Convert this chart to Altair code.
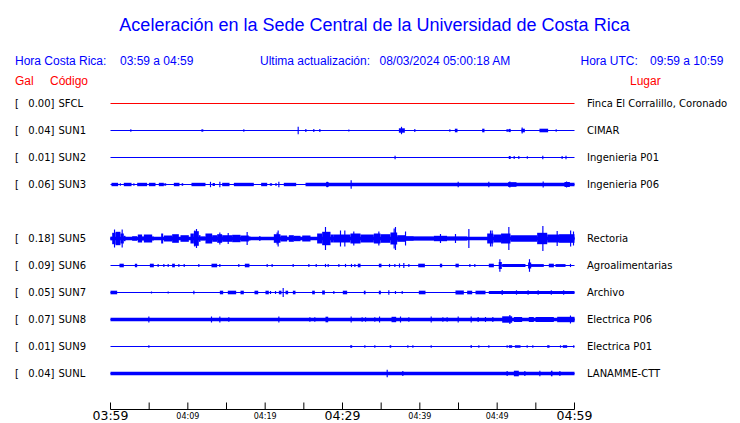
import altair as alt
import pandas as pd

# ---------------- data ----------------
stations = ["SFCL", "SUN1", "SUN2", "SUN3", "SUN5", "SUN6", "SUN7", "SUN8", "SUN9", "SUNL"]
rows = [0, 1, 2, 3, 5, 6, 7, 8, 9, 10]
gal = ["0.00", "0.04", "0.01", "0.06", "0.18", "0.09", "0.05", "0.07", "0.01", "0.04"]
places = ["Finca El Corralillo, Coronado", "CIMAR", "Ingenieria P01", "Ingenieria P06",
          "Rectoria", "Agroalimentarias", "Archivo", "Electrica P06", "Electrica P01",
          "LANAMME-CTT"]
trace_colors = ["#ff0000", "#0000ff", "#0000ff", "#0000ff", "#0000ff",
                "#0000ff", "#0000ff", "#0000ff", "#0000ff", "#0000ff"]
# continuous background deflection (display units, 27 units = one row)
base_amp = [0, 0, 0, 0, 1.8, 0, 0, 1.7, 0, 1.8]

# bursts: (start minute, end minute, half deflection)
segments = {
    "SUN1": [(11.75, 12.0, 1.2), (37.29, 38.06, 2.2), (44.53, 44.87, 1.8), (48.06, 48.36, 1.8),
             (51.45, 51.75, 1.6), (53.15, 53.58, 1.8), (55.47, 56.59, 1.8)],
    "SUN2": [(51.5, 51.75, 1.5)],
    "SUN3": [(0.13, 0.99, 1.7), (1.2, 1.35, 1.3), (1.72, 2.72, 1.7), (2.95, 3.1, 1.3),
             (3.45, 4.74, 1.7), (4.96, 5.82, 1.7), (6.25, 6.90, 1.7), (6.95, 7.2, 1.2),
             (8.19, 8.92, 1.7), (9.2, 9.4, 1.3), (10.47, 12.28, 1.7), (13.2, 13.5, 1.5),
             (14.44, 15.39, 1.7), (15.95, 18.53, 1.7), (19.48, 20.26, 1.7), (20.6, 20.9, 1.2),
             (21.3, 21.5, 1.2), (22.41, 24.01, 1.7), (25.22, 60.0, 1.7), (27.9, 28.2, 2.5),
             (51.4, 52.5, 2.3), (58.7, 59.4, 2.5)],
    "SUN5": [(0.0, 0.22, 1.7), (0.22, 0.65, 5.7), (0.65, 1.29, 6.7), (1.29, 1.72, 5.0),
             (1.72, 1.94, 2.7), (2.80, 3.45, 2.3), (3.53, 4.09, 4.0), (4.09, 4.31, 2.0),
             (4.31, 5.39, 4.0), (5.39, 5.60, 2.0), (6.55, 6.81, 5.0), (6.90, 7.97, 3.0),
             (7.97, 8.84, 4.3), (9.05, 10.13, 3.3), (10.34, 10.78, 5.0), (10.78, 11.42, 7.3),
             (11.42, 11.64, 3.3), (11.64, 12.28, 2.0), (12.28, 13.15, 5.0), (13.15, 13.79, 3.3),
             (13.79, 14.44, 4.3), (14.44, 15.73, 3.3), (15.73, 16.81, 3.7), (16.81, 17.89, 3.0),
             (17.89, 18.10, 2.0), (21.12, 21.98, 4.3), (21.98, 22.84, 3.0), (23.06, 23.71, 3.3),
             (23.71, 24.57, 2.7), (24.79, 25.86, 3.0), (26.72, 27.37, 5.0), (27.37, 28.45, 6.7),
             (28.45, 28.88, 4.0), (28.88, 31.03, 4.0), (31.03, 32.33, 5.0), (32.33, 34.05, 4.0),
             (34.05, 34.91, 5.0), (34.91, 36.20, 4.3), (36.20, 37.07, 6.0), (37.07, 38.20, 3.3),
             (38.20, 39.22, 2.3), (39.22, 41.81, 2.0), (41.81, 43.53, 2.7), (43.53, 46.12, 2.0),
             (48.71, 49.50, 5.0), (49.50, 50.50, 4.0), (50.50, 51.72, 5.0), (51.72, 55.17, 3.3),
             (55.17, 56.47, 5.7), (56.47, 58.00, 4.0), (58.00, 60.0, 4.3)],
    "SUN6": [(1.16, 1.72, 1.8), (3.15, 3.45, 1.8), (5.09, 5.60, 1.8), (7.97, 8.32, 1.8),
             (13.06, 13.79, 1.8), (17.37, 17.97, 1.8), (31.98, 32.33, 1.8), (34.70, 35.04, 1.8),
             (39.79, 40.65, 1.8), (42.59, 42.89, 1.8), (44.61, 45.04, 1.8), (48.92, 49.57, 1.8),
             (50.2, 50.6, 3.5), (50.65, 53.66, 1.4), (54.0, 54.4, 3.0), (54.31, 56.03, 1.4),
             (56.68, 57.33, 1.8), (57.54, 58.84, 1.4)],
    "SUN7": [(0.0, 0.86, 1.8), (14.14, 14.57, 1.8), (15.17, 16.25, 1.8), (16.81, 17.24, 1.8),
             (18.62, 19.10, 1.8), (20.04, 20.47, 1.8), (21.77, 22.11, 1.8), (22.63, 22.97, 1.8),
             (23.58, 23.92, 1.8), (26.08, 26.42, 1.8), (27.37, 27.72, 2.0), (30.04, 30.60, 1.8),
             (32.76, 32.98, 1.8), (34.70, 34.96, 1.8), (39.87, 40.73, 1.8), (44.61, 45.69, 2.0),
             (46.12, 46.77, 1.8), (47.20, 48.49, 1.8), (48.92, 60.0, 1.5)],
    "SUN8": [(27.80, 28.15, 2.8), (36.34, 36.94, 2.7), (50.65, 51.94, 3.2), (52.16, 53.23, 2.5),
             (54.09, 54.74, 2.5), (54.96, 57.33, 2.5), (57.76, 60.0, 2.7)],
    "SUN9": [(31.0, 31.25, 1.3), (36.1, 36.3, 1.3), (46.55, 46.75, 1.3), (51.51, 51.94, 1.3),
             (52.29, 53.02, 1.3), (56.47, 56.77, 1.3), (58.49, 59.05, 1.3)],
    "SUNL": [(52.16, 52.80, 2.8), (56.95, 57.15, 2.8)],
}

# single spikes: (minute, half deflection)
spikes = {
    "SUN1": [(2.63, 1.3), (17.24, 1.3), (24.27, 3.7), (25.26, 1.5), (26.29, 1.5), (27.07, 1.5),
             (30.82, 1.0), (37.63, 3.7), (39.35, 1.5), (43.88, 1.3), (51.29, 1.5), (53.23, 3.0),
             (57.63, 1.2)],
    "SUN2": [(36.8, 1.7), (52.2, 1.5), (52.8, 1.5), (53.9, 1.3), (55.9, 1.7), (58.4, 1.5),
             (58.9, 1.7)],
    "SUN3": [(12.93, 2.7), (14.14, 2.7), (21.77, 2.7), (28.02, 2.7), (31.12, 4.3), (44.96, 2.7),
             (48.92, 2.7), (51.64, 3.0), (55.95, 3.0), (58.97, 3.0)],
    "SUN5": [(0.52, 9.0), (1.51, 9.0), (10.9, 8.0), (11.12, 9.5), (14.14, 6.0), (15.22, 5.5),
             (17.67, 6.5), (19.31, 2.5), (21.55, 6.0), (21.68, 8.0), (27.80, 11.5), (29.74, 8.0),
             (30.3, 8.0), (31.46, 7.0), (34.70, 7.0), (36.68, 10.0), (36.85, 11.5), (38.15, 7.0),
             (42.67, 4.5), (44.61, 4.5), (46.34, 9.5), (49.14, 8.0), (49.35, 8.0), (51.51, 11.5),
             (55.91, 12.5), (57.76, 7.5), (59.5, 8.0), (59.87, 7.0)],
    "SUN6": [(6.16, 1.6), (6.90, 1.6), (7.46, 1.6), (8.84, 1.6), (9.53, 1.6), (11.42, 1.6),
             (14.14, 1.6), (16.59, 1.6), (20.26, 1.6), (20.90, 1.6), (23.62, 1.6), (25.65, 1.6),
             (26.60, 1.6), (27.80, 1.6), (28.15, 1.6), (29.53, 1.6), (30.39, 1.6), (31.16, 1.6),
             (31.60, 1.6), (36.08, 1.6), (36.77, 1.6), (37.37, 2.0), (37.93, 2.5), (38.58, 1.6),
             (46.47, 1.6), (47.11, 1.6), (50.35, 6.3), (54.18, 6.3), (59.48, 1.6)],
    "SUN7": [(5.30, 1.0), (7.46, 1.0), (10.78, 1.7), (20.69, 1.5), (21.34, 1.5), (22.33, 4.5),
             (28.88, 1.5), (35.99, 2.2), (36.85, 1.5), (37.72, 1.5), (50.65, 2.5), (52.5, 2.2),
             (54.0, 2.2), (55.3, 2.2), (57.0, 2.2), (58.6, 2.2)],
    "SUN8": [(4.96, 3.0), (13.06, 3.0), (14.14, 3.0), (15.30, 2.2), (21.77, 3.0), (25.78, 2.2),
             (26.42, 2.2), (31.12, 3.0), (32.54, 2.2), (32.98, 2.2), (34.18, 2.2), (34.79, 3.0),
             (37.50, 3.0), (38.58, 2.2), (41.47, 3.0), (42.98, 2.2), (43.53, 2.2), (44.96, 3.0),
             (46.64, 3.0), (47.54, 2.5), (48.49, 2.5), (49.44, 2.5), (51.64, 4.5), (59.48, 4.0)],
    "SUN9": [(4.96, 1.2), (32.89, 1.2), (34.18, 1.2), (38.45, 1.2), (39.10, 1.2), (41.47, 1.2),
             (47.63, 1.2), (48.92, 1.2), (51.29, 1.2), (53.88, 1.2), (54.61, 1.2), (58.19, 1.2),
             (59.9, 1.2)],
    "SUNL": [(35.78, 3.7), (37.80, 2.5), (51.29, 2.5), (53.58, 2.5), (55.52, 2.8), (58.11, 2.5)],
}

tick_minutes = [0, 5, 10, 15, 20, 25, 30, 35, 40, 45, 50, 55, 60]
major_minutes = [0, 30, 60]
major_labels = ["03:59", "04:29", "04:59"]
minor_minutes = [10, 20, 40, 50]
minor_labels = ["04:09", "04:19", "04:39", "04:49"]

title = "Aceleración en la Sede Central de la Universidad de Costa Rica"

# ---------------- build tables ----------------
UNITS_PER_ROW = 27.0
SPIKE_HALF_WIDTH = 0.075

rect_records = []
for st, r, col, b in zip(stations, rows, trace_colors, base_amp):
    items = []
    if b > 0:
        items.append((0.0, 60.0, b))
    items += segments.get(st, [])
    items += [(t - SPIKE_HALF_WIDTH, t + SPIKE_HALF_WIDTH, a) for t, a in spikes.get(st, [])]
    for t0, t1, a in items:
        rect_records.append({"station": st, "t0": max(t0, 0.0), "t1": min(t1, 60.0),
                             "y0": r - a / UNITS_PER_ROW, "y1": r + a / UNITS_PER_ROW,
                             "color": col})
rects = pd.DataFrame(rect_records)

lines = pd.DataFrame({"station": stations, "row": rows, "t0": [0.0] * len(stations),
                      "t1": [60.0] * len(stations), "color": trace_colors,
                      "gal": [g + "]" for g in gal], "place": places})

xs = alt.Scale(domain=[0, 60], range=[102.5, 566.5], nice=False, zero=False)
ys = alt.Scale(domain=[0, 10], range=[95.5, 365.5], nice=False, zero=False)

base_lines = alt.Chart(lines).mark_rule(strokeWidth=1).encode(
    x=alt.X("t0:Q", scale=xs, axis=None), x2="t1:Q",
    y=alt.Y("row:Q", scale=ys, axis=None),
    color=alt.Color("color:N", scale=None))

bursts = alt.Chart(rects).mark_rect().encode(
    x=alt.X("t0:Q", scale=xs, axis=None), x2="t1:Q",
    y=alt.Y("y0:Q", scale=ys, axis=None), y2="y1:Q",
    color=alt.Color("color:N", scale=None))

lab_font = "DejaVu Sans"
bracket = alt.Chart(lines).mark_text(align="left", baseline="middle", font=lab_font,
                                     fontSize=10, color="black", text="[").encode(
    x=alt.value(7), y=alt.Y("row:Q", scale=ys, axis=None))
gal_txt = alt.Chart(lines).mark_text(align="right", baseline="middle", font=lab_font,
                                     fontSize=10, color="black").encode(
    x=alt.value(46.5), y=alt.Y("row:Q", scale=ys, axis=None), text="gal:N")
code_txt = alt.Chart(lines).mark_text(align="left", baseline="middle", font=lab_font,
                                      fontSize=10, color="black").encode(
    x=alt.value(50.5), y=alt.Y("row:Q", scale=ys, axis=None), text="station:N")
place_txt = alt.Chart(lines).mark_text(align="left", baseline="middle", font=lab_font,
                                       fontSize=10, color="black").encode(
    x=alt.value(579), y=alt.Y("row:Q", scale=ys, axis=None), text="place:N")

# time axis
ticks_df = pd.DataFrame({"m": tick_minutes})
axis_line = alt.Chart(pd.DataFrame({"t0": [0.0], "t1": [60.0]})).mark_rule(
    color="black", strokeWidth=1).encode(
    x=alt.X("t0:Q", scale=xs, axis=None), x2="t1:Q", y=alt.value(401.5))
tick_rules = alt.Chart(ticks_df).mark_rule(color="black", strokeWidth=1).encode(
    x=alt.X("m:Q", scale=xs, axis=None), y=alt.value(394.5), y2=alt.value(401.5))
major_txt = alt.Chart(pd.DataFrame({"m": major_minutes, "lab": major_labels})).mark_text(
    align="center", baseline="alphabetic", font=lab_font, fontSize=12.5, color="black").encode(
    x=alt.X("m:Q", scale=xs, axis=None), y=alt.value(412), text="lab:N")
minor_txt = alt.Chart(pd.DataFrame({"m": minor_minutes, "lab": minor_labels})).mark_text(
    align="center", baseline="alphabetic", font=lab_font, fontSize=8, color="black").encode(
    x=alt.X("m:Q", scale=xs, axis=None), y=alt.value(410.5), text="lab:N")


def label(text, x, y, color, size, align="left"):
    return alt.Chart(pd.DataFrame({"t": [text]})).mark_text(
        align=align, baseline="alphabetic", font="Liberation Sans", fontSize=size,
        color=color).encode(x=alt.value(x), y=alt.value(y), text="t:N")


BLUE = "#0000ff"
RED = "#ff0000"
headers = [
    label(title, 366.5, 22.5, BLUE, 18, align="center"),
    label("Hora Costa Rica:", 7, 56.5, BLUE, 12),
    label("03:59 a 04:59", 112, 56.5, BLUE, 12),
    label("Ultima actualización:", 252, 56.5, BLUE, 12),
    label("08/03/2024 05:00:18 AM", 371.5, 56.5, BLUE, 12),
    label("Hora UTC:", 572.5, 56.5, BLUE, 12),
    label("09:59 a 10:59", 642, 56.5, BLUE, 12),
    label("Gal", 7, 77, RED, 12),
    label("Código", 42, 77, RED, 12),
    label("Lugar", 622, 77, RED, 12),
]

chart = alt.layer(
    base_lines, bursts, bracket, gal_txt, code_txt, place_txt,
    axis_line, tick_rules, major_txt, minor_txt, *headers
).properties(
    width=724, height=415,
    autosize=alt.AutoSizeParams(type="none"),
    padding=0,
    background="white",
).configure_view(stroke=None)

chart.save("out.html", embed_options={"renderer": "svg", "actions": False})
